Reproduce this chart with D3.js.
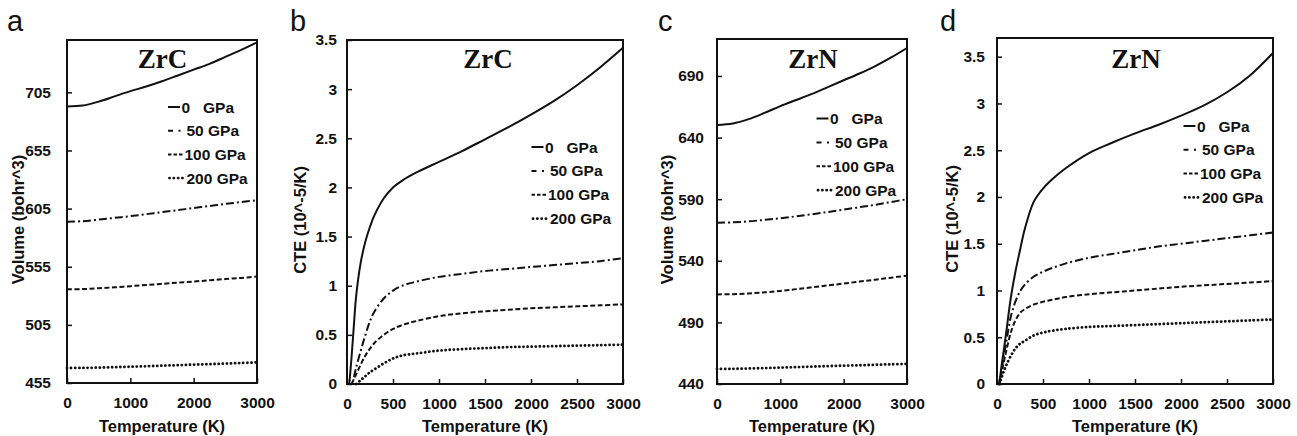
<!DOCTYPE html>
<html>
<head>
<meta charset="utf-8">
<script src="https://cdn.jsdelivr.net/npm/d3@7"></script>
<style>
  body { margin: 0; background: #fff; }
  svg { display: block; font-family: Arial, "Liberation Sans", sans-serif; }
</style>
</head>
<body>
<svg id="chart" width="1297" height="436"></svg>
<script>
// ---------------- data ----------------
const pressures = ["0", "50", "100", "200"];
const legendLabels = ["0   GPa", "50 GPa", "100 GPa", "200 GPa"];

// volume panels: temperature grid (K)
const tVol = [0, 250, 500, 750, 1000, 1250, 1500, 1750, 2000, 2250, 2500, 2750, 3000];
const zrcVol0   = [692.9, 693.6, 697, 701.5, 706, 710, 714.5, 719.5, 724.5, 729.5, 735.5, 741.5, 748];
const zrcVol50  = [593.7, 594.2, 595.5, 597, 598.5, 600.2, 602, 603.7, 605.5, 607.2, 609, 610.6, 612.2];
const zrcVol100 = [535.6, 535.8, 536.5, 537.3, 538.3, 539.3, 540.3, 541.3, 542.3, 543.3, 544.4, 545.4, 546.5];
const zrcVol200 = [467.9, 468, 468.2, 468.6, 469, 469.4, 469.9, 470.3, 470.8, 471.2, 471.7, 472.2, 472.7];

const zrnVol0   = [650.3, 651.5, 655, 660, 665.5, 670.5, 675.5, 681, 686.5, 692, 698, 705, 712.7];
const zrnVol50  = [570.8, 571.2, 572, 573.2, 574.5, 576.1, 577.8, 579.6, 581.5, 583.5, 585.5, 587.7, 590];
const zrnVol100 = [512.7, 512.9, 513.5, 514.4, 515.5, 517, 518.5, 520, 521.5, 523.1, 524.7, 526.3, 527.9];
const zrnVol200 = [452.2, 452.3, 452.6, 452.9, 453.3, 453.7, 454.1, 454.5, 454.9, 455.2, 455.6, 456, 456.3];

// CTE panels: temperature grid (K), null = not plotted
const tCte = [0, 25, 50, 75, 100, 150, 200, 250, 300, 400, 500, 600, 750, 1000, 1250, 1500, 1750, 2000, 2250, 2500, 2750, 3000];
const zrcCte0   = [null, 0, 0.28, 0.6, 0.9, 1.24, 1.45, 1.6, 1.72, 1.89, 2.0, 2.07, 2.15, 2.26, 2.37, 2.49, 2.61, 2.74, 2.88, 3.04, 3.22, 3.42];
const zrcCte50  = [null, null, null, 0.07, 0.17, 0.34, 0.5, 0.64, 0.74, 0.87, 0.95, 1.0, 1.04, 1.09, 1.12, 1.15, 1.17, 1.19, 1.21, 1.23, 1.25, 1.28];
const zrcCte100 = [null, null, 0, 0.05, 0.1, 0.2, 0.29, 0.36, 0.42, 0.5, 0.56, 0.6, 0.64, 0.69, 0.72, 0.74, 0.755, 0.77, 0.78, 0.79, 0.8, 0.81];
const zrcCte200 = [null, null, null, null, 0, 0.04, 0.08, 0.12, 0.15, 0.21, 0.26, 0.29, 0.31, 0.34, 0.355, 0.365, 0.375, 0.38, 0.385, 0.39, 0.395, 0.4];

const zrnCte0   = [null, 0, 0.2, 0.37, 0.55, 0.92, 1.2, 1.43, 1.65, 1.95, 2.09, 2.19, 2.31, 2.47, 2.58, 2.68, 2.77, 2.87, 2.98, 3.12, 3.3, 3.54];
const zrnCte50  = [null, 0, 0.15, 0.3, 0.44, 0.72, 0.88, 0.99, 1.06, 1.15, 1.2, 1.24, 1.29, 1.35, 1.39, 1.43, 1.47, 1.5, 1.53, 1.56, 1.59, 1.62];
const zrnCte100 = [null, 0, 0.12, 0.24, 0.35, 0.55, 0.68, 0.76, 0.8, 0.85, 0.88, 0.9, 0.93, 0.96, 0.98, 1.0, 1.02, 1.04, 1.055, 1.07, 1.085, 1.1];
const zrnCte200 = [null, 0, 0.07, 0.14, 0.2, 0.3, 0.38, 0.43, 0.46, 0.52, 0.55, 0.57, 0.59, 0.61, 0.62, 0.63, 0.64, 0.65, 0.66, 0.67, 0.68, 0.69];

const zrcVolTicks = [455, 505, 555, 605, 655, 705];
const zrnVolTicks = [440, 490, 540, 590, 640, 690];
const cteTicks = [0, 0.5, 1, 1.5, 2, 2.5, 3, 3.5];
const tTicksVol = [0, 1000, 2000, 3000];
const tTicksCte = [0, 500, 1000, 1500, 2000, 2500, 3000];

// ---------------- layout ----------------
const panels = [
  { letter: "a", title: "ZrC", ylab: "Volume (bohr^3)", t: tVol, series: [zrcVol0, zrcVol50, zrcVol100, zrcVol200],
    ydom: [455, 750], yticks: zrcVolTicks, xticks: tTicksVol,
    box: { l: 67, r: 257, t: 40, b: 383 }, lx: 7, tx: 162.5, legX: 168, legY: 107, legStep: 23.7, ylabX: 17.5, ypad: 16 },
  { letter: "b", title: "ZrC", ylab: "CTE (10^-5/K)", t: tCte, series: [zrcCte0, zrcCte50, zrcCte100, zrcCte200],
    ydom: [0, 3.5], yticks: cteTicks, xticks: tTicksCte,
    box: { l: 347, r: 623, t: 40, b: 384 }, lx: 290, tx: 488, legX: 531.5, legY: 147, legStep: 23.9, ylabX: 300, ypad: 10 },
  { letter: "c", title: "ZrN", ylab: "Volume (bohr^3)", t: tVol, series: [zrnVol0, zrnVol50, zrnVol100, zrnVol200],
    ydom: [440, 720], yticks: zrnVolTicks, xticks: tTicksVol,
    box: { l: 717, r: 907, t: 39, b: 384 }, lx: 658, tx: 813, legX: 816.5, legY: 118.5, legStep: 23.9, ylabX: 667, ypad: 13 },
  { letter: "d", title: "ZrN", ylab: "CTE (10^-5/K)", t: tCte, series: [zrnCte0, zrnCte50, zrnCte100, zrnCte200],
    ydom: [0, 3.7], yticks: cteTicks, xticks: tTicksCte,
    box: { l: 997, r: 1273, t: 38, b: 384 }, lx: 940, tx: 1136, legX: 1183.5, legY: 126, legStep: 23.8, ylabX: 952, ypad: 12 }
];

// line styles per pressure
const dash = [null, "8,3,2,3", "5,2.5", "0.1,4"];
const legDash = [null, "5,5.5,2,10", "3.5,2", "0.1,4.2"];
const widths = [2, 2, 2, 2.8];
const caps = ["butt", "butt", "butt", "round"];
const legLine = [[0, 12], [0, 14], [0, 15], [1.5, 14.5]];
const legTextX = [13.5, 18.5, 16.5, 18.5];

const svg = d3.select("#chart");
svg.append("rect").attr("width", 1297).attr("height", 436).attr("fill", "#fff");

panels.forEach(p => {
  const w = p.box.r - p.box.l, h = p.box.b - p.box.t;
  const g = svg.append("g").attr("transform", `translate(${p.box.l},${p.box.t})`);

  const x = d3.scaleLinear().domain([0, 3000]).range([0, w]);
  const y = d3.scaleLinear().domain(p.ydom).range([h, 0]);

  // axes with inward ticks
  const xa = g.append("g")
    .attr("transform", `translate(0,${h})`)
    .call(d3.axisBottom(x).tickValues(p.xticks).tickSize(-5).tickSizeOuter(0).tickPadding(14).tickFormat(d => d));
  const ya = g.append("g")
    .call(d3.axisLeft(y).tickValues(p.yticks).tickSize(-5).tickSizeOuter(0).tickPadding(p.ypad).tickFormat(d => d));
  [xa, ya].forEach(a => {
    a.select(".domain").remove();
    a.selectAll("line").attr("stroke", "#111").attr("stroke-width", 1.5);
    a.selectAll("text").attr("fill", "#111").style("font-size", "15.5px").style("font-weight", "bold")
      .style("font-family", "Arial, 'Liberation Sans', sans-serif");
  });

  // frame
  g.append("rect").attr("width", w).attr("height", h)
    .attr("fill", "none").attr("stroke", "#111").attr("stroke-width", 2);

  // curves
  const line = d3.line()
    .defined(d => d[1] !== null)
    .x(d => x(d[0]))
    .y(d => y(d[1]))
    .curve(d3.curveCatmullRom.alpha(0.5));

  p.series.forEach((vals, i) => {
    const pts = p.t.map((t, k) => [t, vals[k]]);
    g.append("path")
      .datum(pts)
      .attr("d", line)
      .attr("fill", "none")
      .attr("stroke", "#111")
      .attr("stroke-width", widths[i])
      .attr("stroke-linecap", caps[i])
      .attr("stroke-dasharray", dash[i]);
  });

  // title inside plot
  svg.append("text")
    .attr("x", p.tx).attr("y", 68)
    .attr("text-anchor", "middle")
    .style("font-family", "'Times New Roman', 'Liberation Serif', serif")
    .style("font-weight", "bold").style("font-size", "27px")
    .attr("fill", "#111")
    .text(p.title);

  // legend
  const leg = svg.append("g").attr("transform", `translate(${p.legX},${p.legY})`);
  pressures.forEach((pr, i) => {
    const row = leg.append("g").attr("transform", `translate(0,${i * p.legStep})`);
    row.append("line")
      .attr("x1", legLine[i][0]).attr("x2", legLine[i][1]).attr("y1", 0).attr("y2", 0)
      .attr("stroke", "#111").attr("stroke-width", widths[i])
      .attr("stroke-linecap", caps[i])
      .attr("stroke-dasharray", legDash[i]);
    row.append("text")
      .attr("x", legTextX[i]).attr("y", 0).attr("dy", "0.36em")
      .attr("xml:space", "preserve").style("white-space", "pre")
      .style("font-size", "15.5px").style("font-weight", "bold").attr("fill", "#111")
      .text(legendLabels[i]);
  });

  // axis titles
  svg.append("text")
    .attr("x", (p.box.l + p.box.r) / 2).attr("y", 432)
    .attr("text-anchor", "middle")
    .style("font-size", "16.5px").style("font-weight", "bold").attr("fill", "#111")
    .text("Temperature (K)");

  svg.append("text")
    .attr("transform", `translate(${p.ylabX + 6},${(p.box.t + p.box.b) / 2 + 8}) rotate(-90)`)
    .attr("text-anchor", "middle")
    .style("font-size", "16.5px").style("font-weight", "bold").attr("fill", "#111")
    .text(p.ylab);

  // panel letter
  svg.append("text")
    .attr("x", p.lx).attr("y", 31)
    .style("font-size", "29px").attr("fill", "#111")
    .text(p.letter);
});
</script>
</body>
</html>
